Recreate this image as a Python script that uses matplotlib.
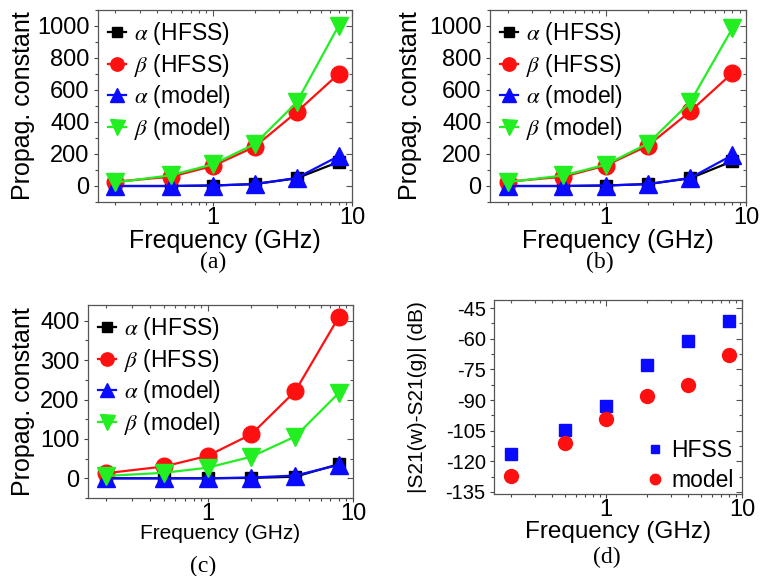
import numpy as np
import matplotlib
matplotlib.use('Agg')
import matplotlib.pyplot as plt
from matplotlib.ticker import FixedLocator, FuncFormatter, MultipleLocator, LogLocator, NullFormatter

plt.rcParams['font.family'] = ['Liberation Sans', 'DejaVu Sans']
plt.rcParams['mathtext.fontset'] = 'stix'
plt.rcParams['axes.unicode_minus'] = False

# frequency points (GHz)
freq = [0.2, 0.5, 1, 2, 4, 8]

# panel (a)
a_alpha_hfss = [0, 0, 3, 12, 48, 150]
a_beta_hfss = [27, 58, 125, 245, 462, 700]
a_alpha_model = [0, 0, 3, 12, 50, 186]
a_beta_model = [22, 67, 135, 262, 522, 1000]

# panel (b)
b_alpha_hfss = [0, 0, 3, 12, 48, 155]
b_beta_hfss = [27, 58, 128, 252, 466, 706]
b_alpha_model = [0, 0, 3, 12, 50, 193]
b_beta_model = [24, 66, 133, 265, 524, 985]

# panel (c)
c_alpha_hfss = [0, 0, 0, 1, 4, 36]
c_beta_hfss = [13, 30, 57, 112, 221, 410]
c_alpha_model = [0, 0, 0, 2, 7, 34]
c_beta_model = [6, 14, 27, 55, 106, 217]

# panel (d)
d_hfss = [-116.4, -104.5, -93.1, -72.7, -61.3, -51.5]
d_model = [-127.4, -111.1, -99.2, -88.2, -82.5, -67.8]

labels = [r'$\alpha$ (HFSS)', r'$\beta$ (HFSS)', r'$\alpha$ (model)', r'$\beta$ (model)']
colors = ['black', '#ff1010', '#0a0aff', '#22ee22']
markers = ['s', 'o', '^', 'v']
msizes = [9, 12, 13, 13.5]

W, H = 760, 576
fig = plt.figure(figsize=(W / 100, H / 100), dpi=100)


def px_axes(x0, y0, x1, y1):
    return [x0 / W, 1 - y1 / H, (x1 - x0) / W, (y1 - y0) / H]


fmt = FuncFormatter(lambda v, p: '%g' % v)


def style(ax, pos, ylim, ymaj, ymin, xsize=17, ysize=17):
    ax.set_xscale('log')
    ax.set_xlim(0.15, 10)
    ax.set_ylim(*ylim)
    ax.xaxis.set_major_locator(FixedLocator([1, 10]))
    ax.xaxis.set_major_formatter(fmt)
    ax.xaxis.set_minor_locator(LogLocator(base=10, subs=np.arange(2, 10)))
    ax.xaxis.set_minor_formatter(NullFormatter())
    ax.yaxis.set_major_locator(MultipleLocator(ymaj))
    ax.yaxis.set_minor_locator(MultipleLocator(ymin))
    ax.tick_params(which='both', direction='out', top=False, right=False,
                   colors='#444444', labelcolor='black')
    ax.tick_params(which='major', length=3, width=0.8)
    ax.tick_params(which='minor', length=2, width=0.8)
    ax.tick_params(axis='x', which='major', labelsize=xsize, pad=0.5)
    ax.tick_params(axis='y', which='major', labelsize=ysize, pad=3)
    for s in ax.spines.values():
        s.set_color('#555555')
        s.set_linewidth(0.9)
    # inward ticks on top and right
    ov = fig.add_axes(pos, facecolor='none')
    ov.set_xscale('log')
    ov.set_xlim(0.15, 10)
    ov.set_ylim(*ylim)
    ov.xaxis.set_major_locator(FixedLocator([1, 10]))
    ov.xaxis.set_minor_locator(LogLocator(base=10, subs=np.arange(2, 10)))
    ov.xaxis.set_minor_formatter(NullFormatter())
    ov.yaxis.set_major_locator(MultipleLocator(ymaj))
    ov.yaxis.set_minor_locator(MultipleLocator(ymin))
    ov.tick_params(which='both', direction='in', top=True, right=True, bottom=False, left=False,
                   labelbottom=False, labelleft=False, colors='#555555')
    ov.tick_params(which='major', length=4, width=0.8)
    ov.tick_params(which='minor', length=2, width=0.8)
    for s in ov.spines.values():
        s.set_visible(False)
    ov.set_zorder(ax.get_zorder() + 1)


def prop_panel(pos, series, ylim, ymaj, ymin, ylab_x, xlab_y, xlab_size):
    ax = fig.add_axes(pos)
    for vals, lab, c, m, ms in zip(series, labels, colors, markers, msizes):
        ax.plot(freq, vals, color=c, marker=m, markersize=ms, lw=1.6, label=lab,
                markeredgecolor=c, clip_on=False)
    style(ax, pos, ylim, ymaj, ymin)
    ax.set_ylabel('Propag. constant', fontsize=18)
    ax.yaxis.set_label_coords(ylab_x, 0.5)
    ax.set_xlabel('Frequency (GHz)', fontsize=xlab_size)
    ax.xaxis.set_label_coords(0.5, xlab_y)
    ax.legend(loc='upper left', frameon=False, fontsize=16.5, handlelength=0.75,
              handletextpad=0.35, labelspacing=0.2, markerscale=0.8,
              borderaxespad=0.05)
    return ax


pos_a = px_axes(98, 10, 352, 202)
pos_b = px_axes(490, 10, 746, 202)
pos_c = px_axes(88, 305, 353, 498)
pos_d = px_axes(494, 300, 742, 494)

prop_panel(pos_a, [a_alpha_hfss, a_beta_hfss, a_alpha_model, a_beta_model],
           (-100, 1100), 200, 100, -0.248, -0.14, 18)
prop_panel(pos_b, [b_alpha_hfss, b_beta_hfss, b_alpha_model, b_beta_model],
           (-100, 1100), 200, 100, -0.266, -0.14, 18)
prop_panel(pos_c, [c_alpha_hfss, c_beta_hfss, c_alpha_model, c_beta_model],
           (-50, 440), 100, 50, -0.2, -0.135, 15)

axd = fig.add_axes(pos_d)
axd.plot(freq, d_hfss, ls='none', marker='s', markersize=8.5, color='#0a0aff', label='HFSS', clip_on=False)
axd.plot(freq, d_model, ls='none', marker='o', markersize=10, color='#ff1010', label='model', clip_on=False)
style(axd, pos_d, (-136, -41), 15, 7.5, xsize=17, ysize=14.5)
axd.set_ylabel('|S21(w)-S21(g)| (dB)', fontsize=15)
axd.yaxis.set_label_coords(-0.27, 0.5)
axd.set_xlabel('Frequency (GHz)', fontsize=17.5)
axd.xaxis.set_label_coords(0.5, -0.14)
axd.legend(loc='lower right', bbox_to_anchor=(0.975, 0.0), frameon=False, fontsize=16.5,
           handlelength=0.6, handletextpad=0.4, labelspacing=0.3, markerscale=0.75,
           borderpad=0.0, borderaxespad=0.1)

# panel captions
serif = ['Liberation Serif', 'DejaVu Serif']
fig.text(213 / W, 1 - 262 / H, '(a)', family=serif, fontsize=17, ha='center', va='center')
fig.text(600 / W, 1 - 262 / H, '(b)', family=serif, fontsize=17, ha='center', va='center')
fig.text(203 / W, 1 - 566 / H, '(c)', family=serif, fontsize=17, ha='center', va='center')
fig.text(607 / W, 1 - 557 / H, '(d)', family=serif, fontsize=17, ha='center', va='center')

fig.savefig('out.png', dpi=100)
